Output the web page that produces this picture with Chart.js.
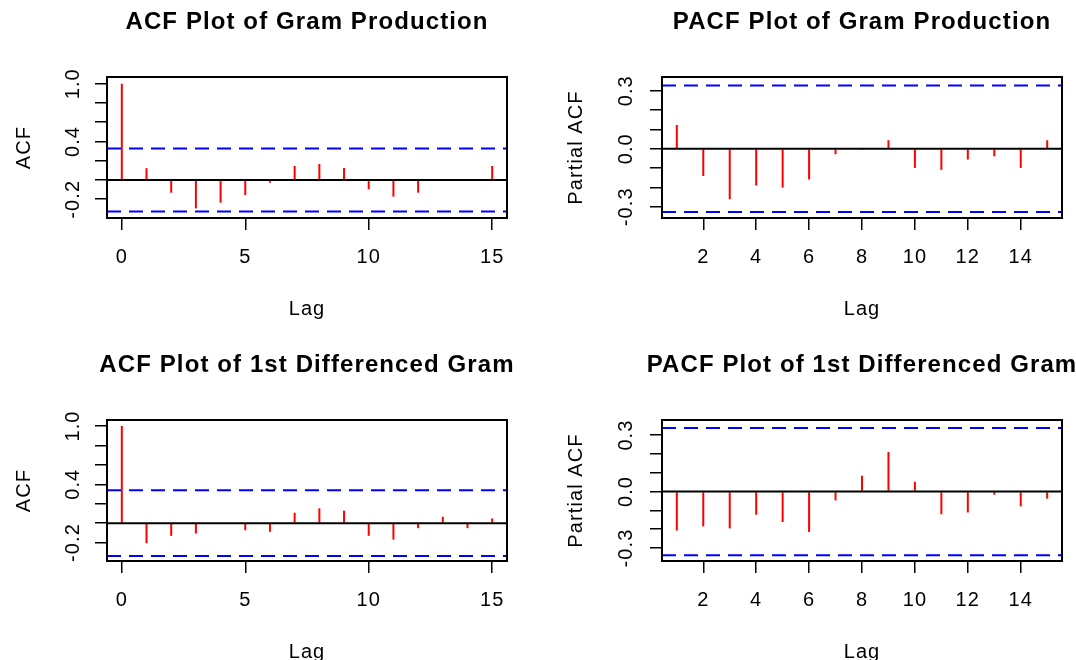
<!DOCTYPE html>
<html><head><meta charset="utf-8">
<script src="https://cdn.jsdelivr.net/npm/chart.js@4.4.1/dist/chart.umd.min.js"></script>
<style>
html,body{margin:0;padding:0;background:#fff;overflow:hidden;width:1076px;height:660px;position:relative}
canvas{position:absolute;display:block}
</style></head><body>
<canvas id="c1" style="left:0;top:0"></canvas>
<canvas id="c3" style="left:0;top:343px"></canvas>
<canvas id="c2" style="left:538px;top:0"></canvas>
<canvas id="c4" style="left:538px;top:343px"></canvas>
<script>
// ---------- data ----------
const acfLags  = [0,1,2,3,4,5,6,7,8,9,10,11,12,13,14,15];
const pacfLags = [1,2,3,4,5,6,7,8,9,10,11,12,13,14,15];

const acfGram  = [1.0, 0.123, -0.132, -0.295, -0.236, -0.156, -0.028, 0.146, 0.166, 0.125, -0.097, -0.173, -0.132, -0.004, 0.004, 0.146];
const pacfGram = [0.123, -0.141, -0.261, -0.19, -0.201, -0.159, -0.028, -0.006, 0.044, -0.099, -0.109, -0.056, -0.039, -0.099, 0.044];
const acfDiff  = [1.0, -0.207, -0.131, -0.107, -0.007, -0.073, -0.09, 0.107, 0.152, 0.128, -0.131, -0.17, -0.052, 0.066, -0.052, 0.048];
const pacfDiff = [-0.207, -0.185, -0.196, -0.123, -0.162, -0.215, -0.047, 0.084, 0.21, 0.052, -0.121, -0.111, -0.017, -0.079, -0.038];

const climGram = 0.327;
const climDiff = 0.338;

const acfXTicks  = [0, 5, 10, 15];
const pacfXTicks = [2, 4, 6, 8, 10, 12, 14];
const acfYTicks  = [-0.2, 0, 0.2, 0.4, 0.6, 0.8, 1.0];
const acfYLabelled  = [-0.2, 0.4, 1.0];
const pacfYTicks = [-0.3, -0.2, -0.1, 0, 0.1, 0.2, 0.3];
const pacfYLabelled = [-0.3, 0, 0.3];

const acfXRange  = [-0.6, 15.6];
const pacfXRange = [0.44, 15.56];
const yRangeAcfGram  = [-0.395, 1.07];
const yRangePacfGram = [-0.358, 0.371];
const yRangeAcfDiff  = [-0.39, 1.062];
const yRangePacfDiff = [-0.369, 0.38];

const titles = ['ACF Plot of Gram Production', 'PACF Plot of Gram Production',
                'ACF Plot of 1st Differenced Gram', 'PACF Plot of 1st Differenced Gram'];

// ---------- drawing ----------
const FONT = '"Liberation Sans", Arial, Helvetica, sans-serif';

const framePlugin = {
  id: 'frame',
  afterDraw(chart) {
    const {ctx, chartArea: a} = chart;
    ctx.save();
    ctx.strokeStyle = '#000';
    ctx.lineWidth = 2;
    ctx.strokeRect(a.left, a.top, a.right - a.left, a.bottom - a.top);
    ctx.restore();
  }
};
const spacingPlugin = {
  id: 'spacing',
  beforeDraw(chart) { chart.ctx.letterSpacing = '1.1px'; }
};

function panel(id, o) {
  const cv = document.getElementById(id);
  cv.width = o.width; cv.height = 343;
  const hline = (y, color, dash, order) => ({
    type: 'line',
    data: o.xRange.map(x => ({x: x, y: y})),
    borderColor: color, borderWidth: 2, borderDash: dash,
    pointRadius: 0, order: order, tension: 0
  });
  const isLab = v => o.yLabelled.some(l => Math.abs(l - v) < 1e-9);
  new Chart(cv, {
    type: 'bar',
    data: {
      datasets: [
        {type: 'bar', data: o.lags.map((l, i) => ({x: l, y: o.vals[i]})),
         backgroundColor: '#FF0000', borderWidth: 0, barThickness: 2, inflateAmount: 0, order: 3},
        hline(0, '#000000', [], 2),
        hline(o.clim, '#0000FF', [14, 8], 1),
        hline(-o.clim, '#0000FF', [14, 8], 1)
      ]
    },
    options: {
      responsive: false, animation: false, devicePixelRatio: 1,
      layout: {padding: 0},
      plugins: {
        legend: {display: false}, tooltip: {enabled: false},
        title: {display: true, text: o.title, fullSize: true, color: '#000',
                font: {family: FONT, size: 24, weight: 'bold', lineHeight: 1.2},
                padding: {top: 7.6, bottom: 40.6}}
      },
      scales: {
        x: {
          type: 'linear', min: o.xRange[0], max: o.xRange[1], offset: false,
          afterBuildTicks: s => { s.ticks = o.xTicks.map(v => ({value: v})); },
          afterFit: s => { s.height = 125; },
          grid: {display: true, drawOnChartArea: false, drawTicks: true, tickLength: 12,
                 color: '#000', lineWidth: 1.5, offset: false},
          border: {display: true, color: '#000', width: 1.5},
          ticks: {autoSkip: false, minRotation: 0, maxRotation: 0, padding: 15, color: '#000',
                  font: {family: FONT, size: 20, lineHeight: 1.2},
                  callback: v => String(v)},
          title: {display: true, text: 'Lag', color: '#000',
                  font: {family: FONT, size: 20, lineHeight: 1.2},
                  padding: {top: 0, bottom: 22}}
        },
        y: {
          type: 'linear', min: o.yRange[0], max: o.yRange[1],
          afterBuildTicks: s => { s.ticks = o.yTicks.map(v => ({value: v})); },
          afterFit: s => { s.width = o.yWidth; },
          grid: {display: true, drawOnChartArea: false, drawTicks: true, tickLength: 12,
                 color: '#000', lineWidth: 1.5},
          border: {display: true, color: '#000', width: 1.5},
          ticks: {autoSkip: false, minRotation: 90, maxRotation: 90, crossAlign: 'center',
                  padding: o.yPad, color: '#000',
                  font: {family: FONT, size: 20, lineHeight: 1.2},
                  callback: v => isLab(v) ? Number(v).toFixed(1) : ''},
          title: {display: true, text: o.ylab, color: '#000',
                  font: {family: FONT, size: 20, lineHeight: 1.2},
                  padding: {top: o.yTitlePad, bottom: 0}}
        },
        spacer: {
          type: 'linear', position: 'right', display: true,
          grid: {display: false, drawTicks: false}, border: {display: false},
          ticks: {display: false}, title: {display: false},
          afterFit: s => { s.width = o.rightGap; }
        }
      }
    },
    plugins: [spacingPlugin, framePlugin]
  });
}

const leftCol  = {width: 614, rightGap: 107, yWidth: 107, yPad: 4.5, yTitlePad: 12};
const rightCol = {width: 648, rightGap: 124, yWidth: 124, yPad: 6.5, yTitlePad: 26.6};

panel('c1', Object.assign({}, leftCol, {title: titles[0], ylab: 'ACF', lags: acfLags, vals: acfGram,
  clim: climGram, xRange: acfXRange, xTicks: acfXTicks, yRange: yRangeAcfGram,
  yTicks: acfYTicks, yLabelled: acfYLabelled}));
panel('c2', Object.assign({}, rightCol, {title: titles[1], ylab: 'Partial ACF', lags: pacfLags, vals: pacfGram,
  clim: climGram, xRange: pacfXRange, xTicks: pacfXTicks, yRange: yRangePacfGram,
  yTicks: pacfYTicks, yLabelled: pacfYLabelled}));
panel('c3', Object.assign({}, leftCol, {title: titles[2], ylab: 'ACF', lags: acfLags, vals: acfDiff,
  clim: climDiff, xRange: acfXRange, xTicks: acfXTicks, yRange: yRangeAcfDiff,
  yTicks: acfYTicks, yLabelled: acfYLabelled}));
panel('c4', Object.assign({}, rightCol, {title: titles[3], ylab: 'Partial ACF', lags: pacfLags, vals: pacfDiff,
  clim: climDiff, xRange: pacfXRange, xTicks: pacfXTicks, yRange: yRangePacfDiff,
  yTicks: pacfYTicks, yLabelled: pacfYLabelled}));
</script>
</body></html>
